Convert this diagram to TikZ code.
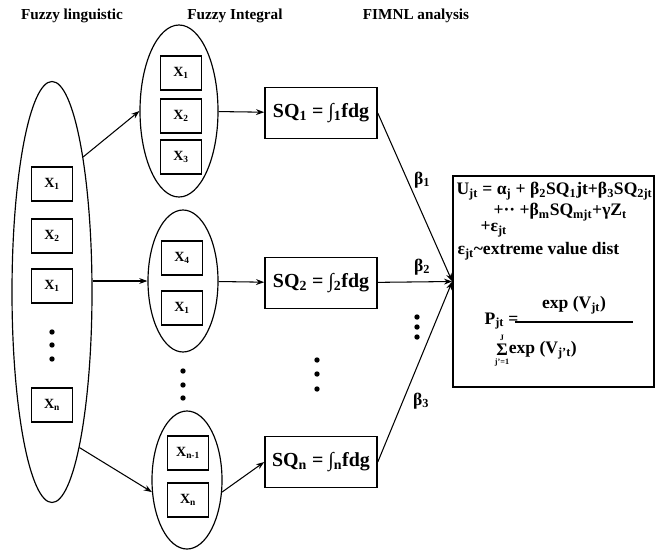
\documentclass[tikz,border=0pt]{standalone}
\usepackage{fontspec}
\setmainfont{Liberation Serif}
\usetikzlibrary{positioning}
\usetikzlibrary{arrows.meta}
\usetikzlibrary{shapes.geometric}

\begin{document}
\begin{tikzpicture}[x=0.03cm, y=-0.03cm, line width=0.9pt,
    heading/.style={font=\fontsize{13}{15}\selectfont\bfseries},
    xbox/.style={rectangle, draw=black, line width=1.3pt, minimum width=1.23cm, minimum height=1.02cm, inner sep=0pt, font=\fontsize{12}{14}\selectfont\bfseries},
    grp/.style={ellipse, draw=black, line width=1pt, inner sep=0pt},
    sqbox/.style={rectangle, draw=black, line width=1.3pt, minimum width=3.36cm, minimum height=1.53cm, inner sep=0pt, font=\fontsize{17}{19}\selectfont\bfseries},
    eqline/.style={anchor=west, inner sep=0pt, font=\fontsize{15}{17}\selectfont\bfseries},
    betalabel/.style={inner sep=0pt, font=\fontsize{15}{17}\selectfont\bfseries},
    limit/.style={inner sep=0pt, font=\fontsize{7}{8}\selectfont\bfseries},
    arr/.style={-{Stealth[length=7pt,width=5pt]}}]

    \useasboundingbox (0,0) rectangle (656,553);

    % column headings
    \node (hlin) [heading] at (72,16) {Fuzzy linguistic};
    \node (hint) [heading] at (235,16) {Fuzzy Integral};
    \node (hfim) [heading] at (416,16) {FIMNL analysis};

    % fuzzy linguistic variables
    \node (lin) [grp, minimum width=2.4cm, minimum height=12.63cm] at (52,292) {};
    \node (lx1) [xbox] at (52,184) {X\textsubscript{1}};
    \node (lx2) [xbox] at (52,236) {X\textsubscript{2}};
    \node (lx3) [xbox] at (52,286) {X\textsubscript{1}};
    \node (lxn) [xbox] at (52,405) {X\textsubscript{n}};
    \foreach \y in {332,345,359} \fill (52,\y) circle[radius=2.3pt];

    % groups
    \node (g1) [grp, minimum width=2.34cm, minimum height=5.16cm] at (179,111) {};
    \node (g1a) [xbox] at (181,73) {X\textsubscript{1}};
    \node (g1b) [xbox] at (181,116) {X\textsubscript{2}};
    \node (g1c) [xbox] at (181,157) {X\textsubscript{3}};

    \node (g2) [grp, minimum width=2.1cm, minimum height=4.26cm] at (183,281) {};
    \node (g2a) [xbox] at (182,258) {X\textsubscript{4}};
    \node (g2b) [xbox] at (182,308) {X\textsubscript{1}};

    \foreach \y in {371,385,398} \fill (183,\y) circle[radius=2.3pt];

    \node (g3) [grp, minimum width=2.1cm, minimum height=4.14cm] at (187,480) {};
    \node (g3a) [xbox] at (188,453) {X\textsubscript{n-1}};
    \node (g3b) [xbox] at (188,500) {X\textsubscript{n}};

    \draw [arr] (lin.77) -- (g1.west);
    \draw [arr] (lin.east |- g2.west) -- (g2.west);
    \draw [arr] (lin.280) -- (g3.199);

    % fuzzy integrals
    \node (sq1) [sqbox] at (321,113) {SQ\textsubscript{1} = ∫\textsubscript{1}fdg};
    \node (sq2) [sqbox] at (321,283) {SQ\textsubscript{2} = ∫\textsubscript{2}fdg};
    \node (sqn) [sqbox] at (321,462) {SQ\textsubscript{n} = ∫\textsubscript{n}fdg};
    \foreach \y in {360,374,389} \fill (317,\y) circle[radius=2.3pt];

    \draw [arr] (g1) -- (sq1);
    \draw [arr] (g2) -- (sq2);
    \draw [arr] (g3.341) -- (sqn.west);

    % FIMNL model
    \node (res) [rectangle, draw=black, line width=1.3pt, minimum width=6.03cm, minimum height=6.33cm] at (553.5,281.5) {};

    \draw [arr] (sq1.east) -- (res.west);
    \draw [arr] (sq2) -- (res.west);
    \draw [arr] (sqn.east) -- (res.west);

    \node (b1) [betalabel] at (422,180) {β\textsubscript{1}};
    \node (b2) [betalabel] at (422,267) {β\textsubscript{2}};
    \node (b3) [betalabel] at (421,401) {β\textsubscript{3}};
    \foreach \y in {317,327,337} \fill (417,\y) circle[radius=2.3pt];

    \node (eq1) [eqline] at (456,191) {U\textsubscript{jt} = α\textsubscript{j} + β\textsubscript{2}SQ\textsubscript{1}jt+β\textsubscript{3}SQ\textsubscript{2jt}};
    \node (eq2) [eqline] at (493,212) {+·· +β\textsubscript{m}SQ\textsubscript{mjt}+γZ\textsubscript{t}};
    \node (eq3) [eqline] at (480,229) {+ε\textsubscript{jt}};
    \node (eq4) [eqline] at (457,251) {ε\textsubscript{jt}\textasciitilde extreme value dist};

    \node (pjt) [eqline] at (484,321) {P\textsubscript{jt} =};
    \node (num) [betalabel] at (574,305) {exp (V\textsubscript{jt})};
    \coordinate (barl) at (515,322);
    \coordinate (barr) at (633,322);
    \draw [line width=1pt] (barl) -- (barr);
    \node (sig) [betalabel] at (502,350) {Σ};
    \node (sigtop) [limit, above=2pt of sig] {J};
    \node (sigbot) [limit, below=2pt of sig] {j'=1};
    \node (den) [eqline, right=0pt of sig] {exp (V\textsubscript{j't})};
\end{tikzpicture}
\end{document}
